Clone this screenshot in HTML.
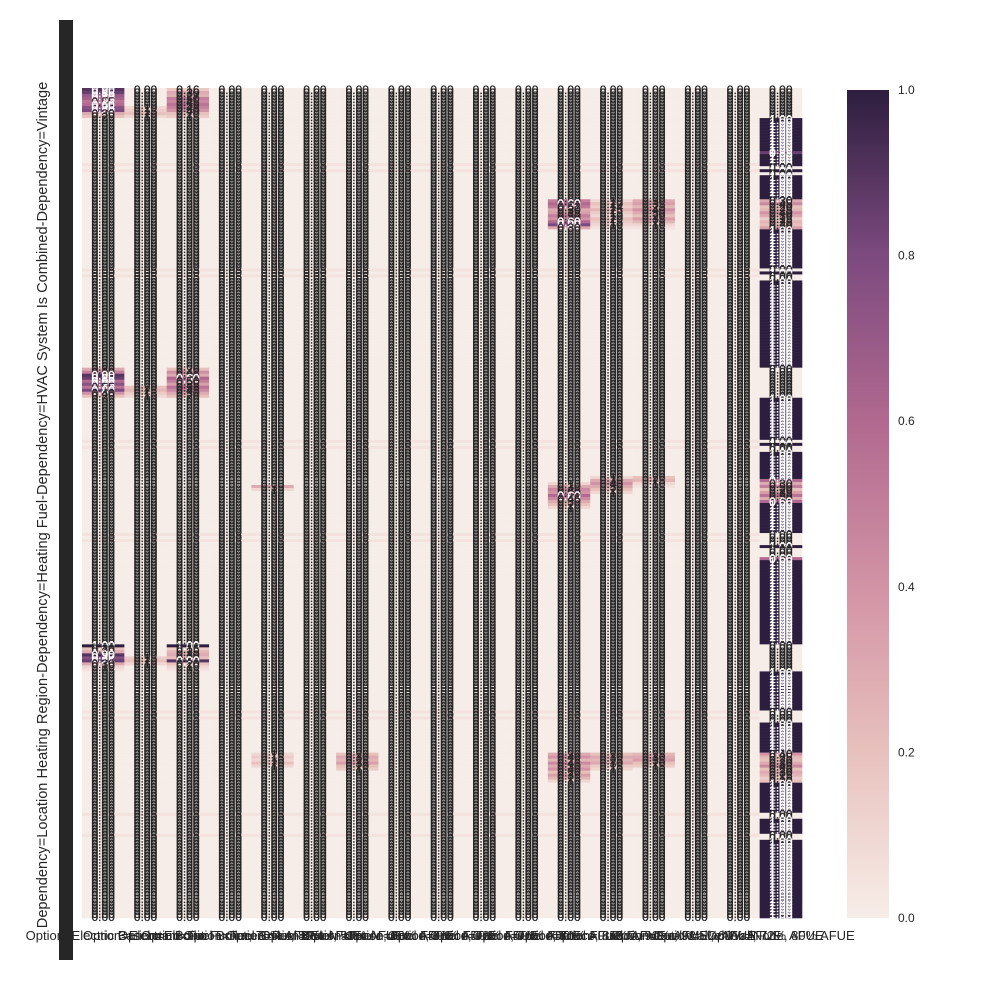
<!DOCTYPE html>
<html><head><meta charset="utf-8"><style>
html,body{margin:0;padding:0;background:#fff;}
svg{display:block;font-family:"Liberation Sans",sans-serif;}
</style></head><body>
<svg id="chart" width="1000" height="1000" viewBox="0 0 1000 1000">
<defs>
<linearGradient id="cbg" x1="0" y1="1" x2="0" y2="0">
<stop offset="0" stop-color="#f7ede8"/><stop offset="0.2" stop-color="#e8c1bd"/>
<stop offset="0.4" stop-color="#d293a5"/><stop offset="0.6" stop-color="#b1698f"/>
<stop offset="0.8" stop-color="#7c4a7f"/><stop offset="1" stop-color="#2d1e3e"/>
</linearGradient>
</defs>
<g id="cells"></g>
<g id="annots"></g>
<rect x="59" y="20" width="14" height="940" fill="#262626"/>
<text transform="translate(47,505) rotate(-90)" text-anchor="middle" font-size="14.6" fill="#262626">Dependency=Location Heating Region-Dependency=Heating Fuel-Dependency=HVAC System Is Combined-Dependency=Vintage</text>
<g id="xticks"></g>
<rect x="847" y="90" width="42" height="828" fill="url(#cbg)"/>
<g id="cbticks"></g>
</svg>
<script>
const NS="http://www.w3.org/2000/svg";
const nRows=276;
const categories=["Option=Electric Baseboard","Option=Electric Boiler","Option=Electric Furnace","Option=Fuel Boiler, 76% AFUE","Option=Fuel Boiler, 80% AFUE","Option=Fuel Boiler, 90% AFUE","Option=Fuel Furnace, 60% AFUE","Option=Fuel Furnace, 68% AFUE","Option=Fuel Furnace, 72% AFUE","Option=Fuel Furnace, 76% AFUE","Option=Fuel Furnace, 80% AFUE","Option=Fuel Furnace, 85% AFUE","Option=Fuel Furnace, 90% AFUE","Option=Fuel Furnace, 92.5% AFUE","Option=Fuel Wall, 68% AFUE","Option=Fuel Wall, 72% AFUE","Option=None, 80% AFUE"];
const clusterStart=[0,0,0,93,99,93,185,189,185,37,37,37,132,131,129,129,221,221,221,221,221];
const clusterCol=[0,1,2,0,1,2,0,1,2,11,12,13,4,11,12,13,4,6,11,12,13];
const clusterVals=[
[0.9,0.85,0.7,0.65,0.55,0.6,0.75,0.8,0.3,0.2],
[0,0,0,0,0,0,0.1,0.15,0.2,0.1],
[0.16,0.3,0.27,0.5,0.45,0.55,0.48,0.4,0.2,0.15],
[0.3,0.5,0.9,0.85,0.6,0.75,0.55,0.8,0.4,0.2],
[0.2,0.25,0.15,0.1],
[0.2,0.42,0.3,0.6,0.5,0.35,0.55,0.45,0.3,0.2],
[1.0,0.2,0.3,0.9,0.77,0.85,0.3,0.1,0.05],
[0.15,0.2,0.1],
[1.0,0.15,0.25,0.3,0.2,0.9,0.2,0.1,0.05],
[0.5,0.6,0.52,0.3,0.35,0.5,0.4,0.6,0.8,0.3],
[0.1,0.2,0.14,0.25,0.15,0.1,0.2,0.15,0.1,0.05],
[0.3,0.35,0.25,0.4,0.3,0.2,0.35,0.25,0.1,0.05],
[0.3,0.1],
[0.1,0.3,0.45,0.4,0.6,0.45,0.3,0.2,0.1],
[0.1,0.3,0.4,0.3,0.2,0.1],
[0.2,0.25,0.1,0.05],
[0.1,0.15,0.1,0.2,0.1],
[0.2,0.3,0.25,0.35,0.2,0.15],
[0.3,0.4,0.25,0.45,0.3,0.4,0.2,0.35,0.25,0.1],
[0.2,0.3,0.25,0.3,0.15,0.1],
[0.25,0.3,0.35,0.2,0.15]];
const faintRows=[25,27,60,62,117,119,148,150,207,209,241,248];
const faintVal=0.05;
const lastRunStart=[0,10,21,22,26,27,28,29,37,47,60,61,62,64,93,103,117,118,119,121,130,138,148,152,153,156,157,185,194,207,211,221,231,241,243,248,250];
const lastRunVals=[[0],[1],[0.85],[1],[0],[1],[0],[1],[0.3,0.45,0.2,0.25,0.4,0.3,0.15,0.25,0.2,0.35],[1],[0],[1],[0],[1],[0],[1],[0],[1],[0],[1],[0.6,0.3,0.5,0.2,0.35,0.55,0.3,0.6],[1],[0],[1],[0],[0.6],[1],[0],[1],[0],[1],[0.4,0.25,0.2,0.3,0.45,0.2,0.3,0.25,0.15,0.2],[1],[0],[1],[0],[1]];
const cbTicks=[0,0.2,0.4,0.6,0.8,1.0];

const X0=82,X1=802,Y0=88,Y1=918;
const nCols=categories.length;
const colW=(X1-X0)/nCols,rowH=(Y1-Y0)/nRows;
const xPos=c=>X0+c*colW, yPos=r=>Y0+r*rowH;
const stops=[[247,237,232],[232,193,189],[210,147,165],[177,105,143],[124,74,127],[45,30,62]];
function color(v){v=Math.max(0,Math.min(1,v));const t=v*5,i=Math.min(4,Math.floor(t)),f=t-i;const a=stops[i],b=stops[i+1];
return `rgb(${a.map((x,k)=>Math.round(x+(b[k]-x)*f)).join(',')})`;}

const M=[];for(let r=0;r<nRows;r++){M.push(new Array(nCols).fill(0));}
faintRows.forEach(r=>{for(let c=0;c<nCols-1;c++)M[r][c]=faintVal;});
clusterStart.forEach((s,i)=>{clusterVals[i].forEach((v,k)=>{if(s+k<nRows)M[s+k][clusterCol[i]]=v;});});
lastRunStart.forEach((s,i)=>{const e=i+1<lastRunStart.length?lastRunStart[i+1]:nRows;const vs=lastRunVals[i];
for(let r=s;r<e;r++)M[r][nCols-1]=vs.length===1?vs[0]:vs[(r-s)%vs.length];});

const cells=document.getElementById('cells'),ann=document.getElementById('annots');
for(let r=0;r<nRows;r++)for(let c=0;c<nCols;c++){
const v=M[r][c];
const rc=document.createElementNS(NS,'rect');
rc.setAttribute('x',xPos(c));rc.setAttribute('y',yPos(r));
rc.setAttribute('width',colW+0.3);rc.setAttribute('height',rowH+0.3);
rc.setAttribute('fill',color(v));


cells.appendChild(rc);
const t=document.createElementNS(NS,'text');
t.setAttribute('x',xPos(c)+colW/2);t.setAttribute('y',yPos(r)+rowH/2+4.3);
t.setAttribute('text-anchor','middle');t.setAttribute('font-size','12');
const col=v>0.55?'#ffffff':'#262626';
t.setAttribute('fill',col);t.setAttribute('stroke',col);t.setAttribute('stroke-width','0.25');
t.textContent=v.toFixed(2);


ann.appendChild(t);}

const xt=document.getElementById('xticks');
categories.forEach((lab,c)=>{const t=document.createElementNS(NS,'text');
t.setAttribute('x',xPos(c)+colW/2);t.setAttribute('y',940);t.setAttribute('text-anchor','middle');
t.setAttribute('font-size','13');t.setAttribute('fill','#262626');t.textContent=lab;


xt.appendChild(t);});

const cb=document.getElementById('cbticks');
cbTicks.forEach(v=>{const t=document.createElementNS(NS,'text');
t.setAttribute('x',898);t.setAttribute('y',918-v*828+4);t.setAttribute('font-size','12');t.setAttribute('fill','#262626');
t.textContent=v.toFixed(1);


cb.appendChild(t);});
</script>
</body></html>
